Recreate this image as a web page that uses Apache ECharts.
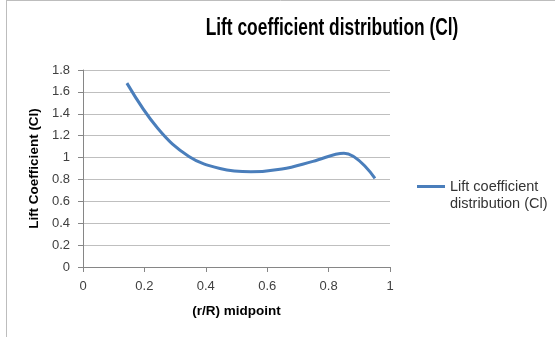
<!DOCTYPE html>
<html><head><meta charset="utf-8">
<script src="https://cdn.jsdelivr.net/npm/echarts@6/dist/echarts.min.js"></script>
<style>html,body{margin:0;padding:0;background:#fff}#c{width:555px;height:337px}</style>
</head><body><div id="c"></div>
<script>
const title = 'Lift coefficient distribution (Cl)';
const seriesName = 'Lift coefficient distribution (Cl)';
const legendLines = ['Lift coefficient', 'distribution (Cl)'];
const xName = '(r/R) midpoint';
const yName = 'Lift Coefficient (Cl)';
const rMid = [0.143, 0.244, 0.345, 0.446, 0.547, 0.648, 0.749, 0.850, 0.951];
const cl = [1.68, 1.265, 1.01, 0.90, 0.87, 0.895, 0.965, 1.04, 0.81];
const data = rMid.map((x, i) => [x, cl[i]]);
const font = 'Liberation Sans, Arial, sans-serif';
const chart = echarts.init(document.getElementById('c'), null, {renderer: 'canvas'});
chart.setOption({
  animation: false,
  backgroundColor: '#fff',
  textStyle: {fontFamily: font},
  graphic: [
    {type: 'line', shape: {x1: 6.5, y1: 0, x2: 6.5, y2: 337}, style: {stroke: '#bdbdbd', lineWidth: 1}},
    {type: 'line', shape: {x1: 6, y1: 0.5, x2: 555, y2: 0.5}, style: {stroke: '#bdbdbd', lineWidth: 1}},
    {type: 'text', x: 332, y: 29, scaleX: 0.755, silent: true,
      style: {text: title, fill: '#000', font: 'bold 23px Liberation Sans, Arial, sans-serif',
        align: 'center', verticalAlign: 'middle'}}
  ],
  legend: {left: 412, top: 173, orient: 'vertical', itemWidth: 28, itemHeight: 34,
    icon: 'path://M0,0L0.01,0L0,0ZM0,7L28,7L28,10L0,10ZM0,34L0.01,34L0,34Z',
    formatter: () => legendLines.join('\n'),
    textStyle: {fontSize: 14.5, color: '#333', lineHeight: 17, fontFamily: font}},
  grid: {left: 83, right: 165, top: 70, bottom: 70, containLabel: false},
  xAxis: {type: 'value', min: 0, max: 1, interval: 0.2,
    name: xName, nameLocation: 'middle', nameGap: 37,
    nameTextStyle: {fontWeight: 'bold', fontSize: 13.5, color: '#000'},
    axisLine: {lineStyle: {color: '#868686'}},
    axisTick: {show: true, length: 5, lineStyle: {color: '#868686'}},
    axisLabel: {fontSize: 13, color: '#404040', margin: 13, formatter: v => String(+v.toFixed(1))},
    splitLine: {show: false}},
  yAxis: {type: 'value', min: 0, max: 1.8, interval: 0.2,
    name: yName, nameLocation: 'middle', nameGap: 41, nameRotate: 90,
    nameTextStyle: {fontWeight: 'bold', fontSize: 13.5, color: '#000'},
    axisLine: {show: true, lineStyle: {color: '#868686'}},
    axisTick: {show: true, length: 5, lineStyle: {color: '#868686'}},
    axisLabel: {fontSize: 13, color: '#404040', margin: 13, formatter: v => String(+v.toFixed(1))},
    splitLine: {show: true, lineStyle: {color: '#bfbfbf', width: 1}}},
  series: [{name: seriesName, type: 'line', data: data, smooth: 0.4, showSymbol: false,
    symbol: 'none', lineStyle: {color: '#4a7ebb', width: 3}, itemStyle: {color: '#4a7ebb'}}]
});
</script></body></html>
